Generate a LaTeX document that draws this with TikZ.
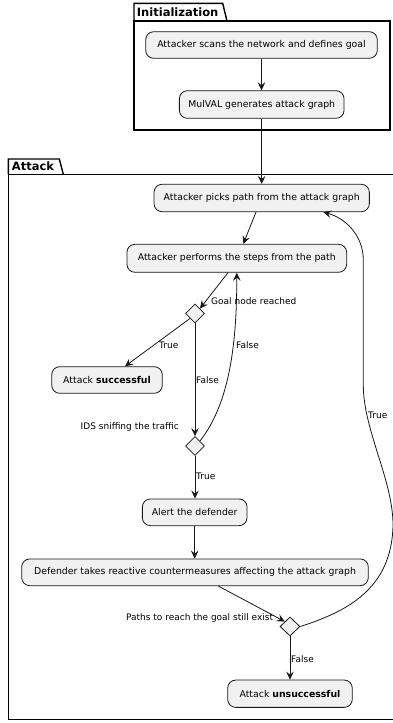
\documentclass[tikz,border=0pt]{standalone}
\usepackage{fontspec}
\setmainfont{DejaVu Sans}
\usetikzlibrary{arrows.meta,shapes.geometric,calc}
\definecolor{nodefill}{HTML}{F1F1F1}
\definecolor{nodeline}{HTML}{181818}
\begin{document}
\begin{tikzpicture}[x=1pt,y=-1pt,
  act/.style={draw=nodeline,fill=nodefill,rounded corners=8pt,line width=0.8pt,inner sep=0pt,font=\fontsize{9.35}{11}\selectfont,text=black},
  dec/.style={draw=nodeline,fill=nodefill,diamond,line width=0.8pt,inner sep=0pt,minimum width=19pt,minimum height=19pt},
  lab/.style={inner sep=0pt,font=\fontsize{9}{11}\selectfont,text=black},
  pkg/.style={draw=black,line width=1.4pt,line join=miter},
  pkglab/.style={inner sep=0pt,font=\fontsize{11.5}{13}\selectfont\bfseries,anchor=west,text=black},
  flow/.style={draw=nodeline,line width=0.8pt,-{Stealth[length=8pt,width=7.5pt,inset=3pt]}},
]
\useasboundingbox (0,0) rectangle (393,723);
\fill[white] (0,0) rectangle (393,723);

% packages
\draw[pkg] (134,21) rectangle (390,130);
\draw[pkg] (134,21) -- (134,3.3) -- (222.7,3.3) -- (227,21);
\node[pkglab] (pinit) at (136.7,12) {Initialization};
\draw[pkg] (8.3,174.3) rectangle (400,719.3);
\draw[pkg] (8.3,174.3) -- (8.3,159) -- (59.3,159) -- (63.3,174.3);
\node[pkglab] (patt) at (11.7,166) {Attack};

% nodes
\node[act,minimum width=231.6pt,minimum height=26.6pt] (n1) at (261.5,45) {Attacker scans the network and defines goal};
\node[act,minimum width=164.7pt,minimum height=27.6pt] (n2) at (261.7,104.5) {MulVAL generates attack graph};
\node[act,minimum width=215.3pt,minimum height=27.4pt] (n3) at (261.7,198) {Attacker picks path from the attack graph};
\node[act,minimum width=219.7pt,minimum height=28pt] (n4) at (236.8,258.3) {Attacker performs the steps from the path};
\node[act,minimum width=110.6pt,minimum height=26.6pt] (succ) at (107,380) {Attack \textbf{successful}};
\node[act,minimum width=104.7pt,minimum height=26.7pt] (alert) at (194.7,512.3) {Alert the defender};
\node[act,minimum width=346.6pt,minimum height=26.7pt] (def) at (195,572.3) {Defender takes reactive countermeasures affecting the attack graph};
\node[act,minimum width=124.6pt,minimum height=27.3pt] (unsucc) at (290,693.7) {Attack \textbf{unsuccessful}};
\node[dec] (d1) at (195,313.5) {};
\node[dec] (d2) at (195,446) {};
\node[dec,minimum width=20pt] (d3) at (290,626.5) {};

% connectors
\draw[flow] (n1.south) -- (n1.south |- n2.north);
\draw[flow] (n2.south) -- (n2.south |- n3.north);
\draw[flow] ($(n3.south)+(-5.7,0)$) -- ($(n4.north)+(6.5,0)$);
\draw[flow] ($(n4.south)+(-8.8,0)$) -- (d1.north east);
\draw[flow] (d1.south west) -- ($(succ.north)+(18,0)$);
\draw[flow] (d1.south) -- (d2.north);
\draw[flow] (d2.north east) .. controls (228,405) and (236.8,350) .. (n4.south);
\draw[flow] (d2.south) -- (d2.south |- alert.north);
\draw[flow] (alert.south) -- (alert.south |- def.north);
\draw[flow] ($(def.south)+(23.3,0)$) -- (d3.north west);
\draw[flow] (d3.south) -- (unsucc.north);
\draw[flow] (d3.east) .. controls (345,612) and (392,590) .. (393,525)
  .. controls (393,480) and (363.3,430) .. (363.3,385) -- (363.3,260)
  .. controls (363.3,235) and (345,218) .. ($(n3.south)+(61.6,0)$);

% labels
\node[lab,anchor=west] (lgoal) at (211,300.7) {Goal node reached};
\node[lab,anchor=west] (ltrue1) at (159,345) {True};
\node[lab,anchor=west] (lfalse1) at (196,380) {False};
\node[lab,anchor=west] (lfalse2) at (236,345) {False};
\node[lab,anchor=east] (lids) at (179,426.7) {IDS sniffing the traffic};
\node[lab,anchor=west] (ltrue2) at (196,476.7) {True};
\node[lab,anchor=west] (ltrue3) at (368,415) {True};
\node[lab,anchor=east] (lpaths) at (273.3,618.3) {Paths to reach the goal still exist};
\node[lab,anchor=west] (lfalse3) at (291,659) {False};
\end{tikzpicture}
\end{document}
